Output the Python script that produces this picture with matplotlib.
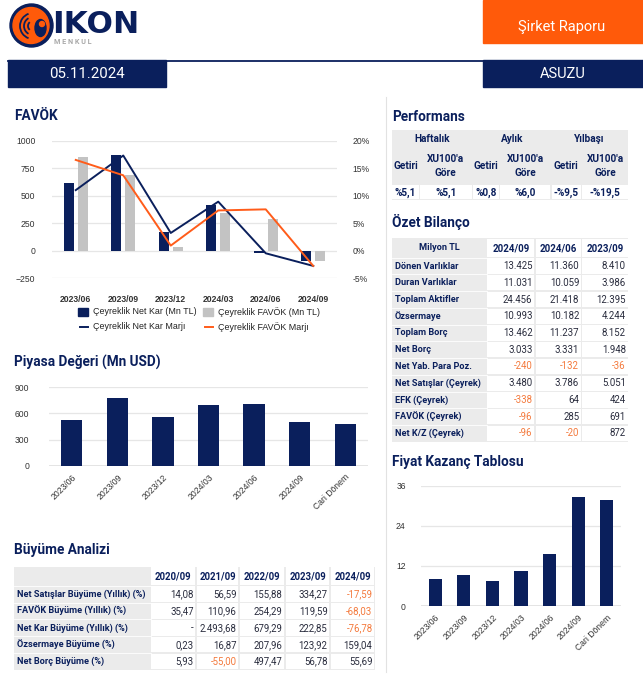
import matplotlib
matplotlib.use('Agg')
import matplotlib.pyplot as plt
import numpy as np
from matplotlib.patches import Rectangle, Circle, Ellipse, Arc

W, H = 643, 700
NAVY = '#0a1f5c'
ORANGE = '#ff5a0a'
LINE_ORANGE = '#ff5c1a'
NEG = '#f47a3d'
GRAY_BAR = '#c3c3c3'
TBL_GRAY = '#ebebeb'
TXT = '#2a2d3e'

plt.rcParams['font.family'] = ['Roboto', 'DejaVu Sans']

# ---- data ----
favok_periods = ['2023/06', '2023/09', '2023/12', '2024/03', '2024/06', '2024/09']
net_kar = [618, 872, 167, 415, -20, -96]
favok = [855, 691, 33, 342, 285, -96]
net_kar_marji = [11.0, 17.3, 3.2, 8.9, -0.5, -2.8]
favok_marji = [16.5, 13.7, 0.9, 7.3, 7.5, -2.8]

pd_periods = ['2023/06', '2023/09', '2023/12', '2024/03', '2024/06', '2024/09', 'Cari Dönem']
piyasa_degeri = [525, 777, 555, 697, 708, 498, 479]
fk_values = [8.1, 9.3, 7.4, 10.6, 15.6, 32.7, 31.7]

buyume_cols = ['2020/09', '2021/09', '2022/09', '2023/09', '2024/09']
buyume_rows = ['Net Satışlar Büyüme (Yıllık) (%)', 'FAVÖK Büyüme (Yıllık) (%)',
               'Net Kar Büyüme (Yıllık) (%)', 'Özsermaye Büyüme (%)', 'Net Borç Büyüme (%)']
buyume_vals = [
    ['14,08', '56,59', '155,88', '334,27', '-17,59'],
    ['35,47', '110,96', '254,29', '119,59', '-68,03'],
    ['-', '2.493,68', '679,29', '222,85', '-76,78'],
    ['0,23', '16,87', '207,96', '123,92', '159,04'],
    ['5,93', '-55,00', '497,47', '56,78', '55,69'],
]

perf_groups = ['Haftalık', 'Aylık', 'Yılbaşı']
perf_sub = ['Getiri', "XU100'a\nGöre"]
perf_vals = ['%5,1', '%5,1', '%0,8', '%6,0', '-%9,5', '-%19,5']

bilanco_cols = ['2024/09', '2024/06', '2023/09']
bilanco_rows = ['Dönen Varlıklar', 'Duran Varlıklar', 'Toplam Aktifler', 'Özsermaye',
                'Toplam Borç', 'Net Borç', 'Net Yab. Para Poz.', 'Net Satışlar (Çeyrek)',
                'EFK (Çeyrek)', 'FAVÖK (Çeyrek)', 'Net K/Z (Çeyrek)']
bilanco_vals = [
    ['13.425', '11.360', '8.410'],
    ['11.031', '10.059', '3.986'],
    ['24.456', '21.418', '12.395'],
    ['10.993', '10.182', '4.244'],
    ['13.462', '11.237', '8.152'],
    ['3.033', '3.331', '1.948'],
    ['-240', '-132', '-36'],
    ['3.480', '3.786', '5.051'],
    ['-338', '64', '424'],
    ['-96', '285', '691'],
    ['-96', '-20', '872'],
]


def fig_rect(x0, y0, x1, y1):
    return [x0 / W, 1 - y1 / H, (x1 - x0) / W, (y1 - y0) / H]


def val_color(s):
    return NEG if s.startswith('-') and len(s) > 1 else TXT


fig = plt.figure(figsize=(W / 100, H / 100), dpi=100)
bg = fig.add_axes([0, 0, 1, 1])
bg.set_xlim(0, W)
bg.set_ylim(H, 0)
bg.axis('off')

# ---- header ----
bg.add_patch(Circle((31.5, 25.5), 21.5, color=NAVY))
bg.add_patch(Circle((31, 25.5), 18, color=ORANGE))
bg.add_patch(Ellipse((40.5, 28), 11, 17, color=NAVY))
for r, t1, t2 in [(13, 110, 250), (9, 120, 240), (5, 130, 230)]:
    bg.add_patch(Arc((33, 26), 2 * r, 2 * r, theta1=t1, theta2=t2, color=NAVY, lw=1.3))
bg.add_patch(Ellipse((42, 24), 5, 5, color=ORANGE))
bg.text(52, 33, 'IKON', fontsize=22.5, fontweight='bold', color=NAVY,
        family='DejaVu Sans', va='baseline')
bg.text(53.5, 44.5, 'M E N K U L', fontsize=5.2, fontweight='bold', color='#a8a8a8', va='baseline')

bg.add_patch(Rectangle((483, 0), 160, 43, color=ORANGE))
bg.text(562, 27, 'Şirket Raporu', fontsize=10.5, color='white', ha='center', va='center')
bg.plot([8, 643], [60.5, 60.5], color=NAVY, lw=1.3)
bg.add_patch(Rectangle((8, 60), 158, 27, color=NAVY))
bg.text(87, 73.5, '05.11.2024', fontsize=10.8, color='white', ha='center', va='center')
bg.add_patch(Rectangle((483, 60), 160, 27, color=NAVY))
bg.text(563, 73.5, 'ASUZU', fontsize=10.5, color='white', ha='center', va='center')

bg.plot([386, 386], [97, 672], color='#e2e2e2', lw=0.8)

title_kw = dict(fontsize=9.8, fontweight='bold', color=NAVY, va='center')
bg.text(14, 116, 'FAVÖK', **title_kw)
bg.text(14, 362, 'Piyasa Değeri (Mn USD)', **title_kw)
bg.text(14, 550, 'Büyüme Analizi', **title_kw)
bg.text(392, 117, 'Performans', **title_kw)
bg.text(392, 222, 'Özet Bilanço', **title_kw)
bg.text(392, 462, 'Fiyat Kazanç Tablosu', **title_kw)

TICK_FONT = ['Liberation Sans', 'DejaVu Sans']


def style_ticks(a, labels):
    for lab in labels:
        lab.set_fontfamily(TICK_FONT)
        lab.set_fontsize(6.2)
        lab.set_color('#333333')
    for s in a.spines.values():
        s.set_visible(False)


# ---- FAVÖK chart ----
ax = fig.add_axes(fig_rect(52, 140.7, 337, 278))
ax.patch.set_alpha(0)
x = np.arange(len(favok_periods))
ax.bar(x - 0.15, net_kar, width=0.21, color=NAVY, zorder=2)
ax.bar(x + 0.15, favok, width=0.21, color=GRAY_BAR, zorder=2)
ax.set_xlim(-0.5, len(favok_periods) - 0.5)
ax.set_ylim(-250, 1000)
ax.set_yticks([-250, 0, 250, 500, 750, 1000])
ax.set_xticks(x)
ax.set_xticklabels(favok_periods, fontweight='bold')
ax.yaxis.grid(True, color='#e6e6e6', lw=0.9)
ax.set_axisbelow(True)
ax.tick_params(length=0)
ax.tick_params(axis='y', pad=12)
ax.tick_params(axis='x', pad=12)
style_ticks(ax, ax.get_xticklabels() + ax.get_yticklabels())

ax2 = ax.twinx()
ax2.plot(x, net_kar_marji, color=NAVY, lw=1.4, zorder=3)
ax2.plot(x, favok_marji, color=LINE_ORANGE, lw=1.4, zorder=3)
ax2.set_ylim(-5, 20)
ax2.set_yticks([-5, 0, 5, 10, 15, 20])
ax2.set_yticklabels([f'{v}%' for v in [-5, 0, 5, 10, 15, 20]])
ax2.tick_params(length=0, pad=11)
style_ticks(ax2, ax2.get_yticklabels())

# legend
leg_kw = dict(family=TICK_FONT, fontsize=6.4, color='#222222', va='center')
bg.add_patch(Rectangle((78, 307.5), 10, 8, color=NAVY))
bg.text(93, 311.7, 'Çeyreklik Net Kar (Mn TL)', **leg_kw)
bg.add_patch(Rectangle((203, 307.5), 10, 8, color=GRAY_BAR))
bg.text(218, 311.7, 'Çeyreklik FAVÖK (Mn TL)', **leg_kw)
bg.plot([80, 88], [326.7, 326.7], color=NAVY, lw=1.4)
bg.text(93, 326.7, 'Çeyreklik Net Kar Marjı', **leg_kw)
bg.plot([205, 213], [326.7, 326.7], color=LINE_ORANGE, lw=1.4)
bg.text(218, 326.7, 'Çeyreklik FAVÖK Marjı', **leg_kw)


def bar_chart(rect, labels, values, ylim, yticks, width):
    a = fig.add_axes(rect)
    a.patch.set_alpha(0)
    xs = np.arange(len(labels))
    a.bar(xs, values, width=width, color=NAVY, zorder=2)
    a.set_xlim(-0.5, len(labels) - 0.5)
    a.set_ylim(*ylim)
    a.set_yticks(yticks)
    a.set_xticks(xs)
    a.set_xticklabels(labels, rotation=45, ha='right', rotation_mode='anchor')
    a.yaxis.grid(True, color='#e6e6e6', lw=0.9)
    a.set_axisbelow(True)
    a.tick_params(length=0)
    a.tick_params(axis='x', pad=5)
    style_ticks(a, a.get_xticklabels() + a.get_yticklabels())
    a.axhline(0, color='#e0e0e0', lw=1.2, zorder=1)
    return a


ax_pd = bar_chart(fig_rect(49, 387.3, 368, 465.7), pd_periods, piyasa_degeri,
                  (0, 900), [0, 300, 600, 900], 0.47)
ax_pd.tick_params(axis='y', pad=14)
ax_fk = bar_chart(fig_rect(421, 485.7, 621, 606), pd_periods, fk_values,
                  (0, 36), [0, 12, 24, 36], 0.46)
ax_fk.tick_params(axis='y', pad=11)


# ---- tables ----
def grid_table(xb, yb, gray_cols, gray_rows):
    bg.add_patch(Rectangle((xb[0], yb[0]), xb[-1] - xb[0], yb[-1] - yb[0],
                           color=TBL_GRAY, lw=0))
    for i in range(len(yb) - 1):
        for j in range(len(xb) - 1):
            if j in gray_cols or i in gray_rows:
                continue
            bg.add_patch(Rectangle((xb[j] + 0.7, yb[i] + 0.7), xb[j + 1] - xb[j] - 1.4,
                                   yb[i + 1] - yb[i] - 1.4, color='white', lw=0))


lab_kw = dict(fontsize=6.6, fontweight='bold', color=NAVY, va='center')
num_kw = dict(fontsize=6.9, va='center')

# Büyüme Analizi
bx = [14, 150.7, 196, 239, 285, 330, 375]
by = [566.7, 585.7] + [585.7 + 16.86 * (i + 1) for i in range(5)]
grid_table(bx, by, gray_cols=[0], gray_rows=[])
for i in range(1, len(by) - 1):
    bg.plot([bx[0], bx[1]], [by[i], by[i]], color='white', lw=0.6)
for j, c in enumerate(buyume_cols):
    bg.text((bx[j + 1] + bx[j + 2]) / 2, (by[0] + by[1]) / 2, c, ha='center',
            **{**lab_kw, 'fontsize': 6.9})
for i, r in enumerate(buyume_rows):
    yc = (by[i + 1] + by[i + 2]) / 2
    bg.text(bx[0] + 3, yc, r, ha='left', **lab_kw)
    for j, v in enumerate(buyume_vals[i]):
        bg.text(bx[j + 2] - 2.5, yc, v, ha='right', color=val_color(v), **num_kw)

# Performans
px = [391.7, 419.3, 472.3, 499.3, 551, 581.7, 628.3]
py = [130, 148, 184, 200]
grid_table(px, py, gray_cols=[], gray_rows=[0, 1])
perf_kw = {**lab_kw, 'fontsize': 7.2}
for g, name in enumerate(perf_groups):
    bg.text((px[2 * g] + px[2 * g + 2]) / 2, (py[0] + py[1]) / 2, name, ha='center', **perf_kw)
for j in range(6):
    xc = (px[j] + px[j + 1]) / 2
    bg.text(xc, (py[1] + py[2]) / 2, perf_sub[j % 2], ha='center', linespacing=1.45, **perf_kw)
    bg.text(xc, (py[2] + py[3]) / 2 + 0.5, perf_vals[j], ha='center', **perf_kw)

# Özet Bilanço
ox = [391.7, 486.7, 535, 581.7, 628.3]
oy = [238.3, 257.7] + [257.7 + 16.73 * (i + 1) for i in range(len(bilanco_rows))]
grid_table(ox, oy, gray_cols=[0], gray_rows=[])
for i in range(1, len(oy) - 1):
    bg.plot([ox[0], ox[1]], [oy[i], oy[i]], color='white', lw=0.6)
bg.text((ox[0] + ox[1]) / 2, (oy[0] + oy[1]) / 2, 'Milyon TL', ha='center', **lab_kw)
for j, c in enumerate(bilanco_cols):
    bg.text((ox[j + 1] + ox[j + 2]) / 2, (oy[0] + oy[1]) / 2, c, ha='center',
            **{**lab_kw, 'fontsize': 7})
for i, r in enumerate(bilanco_rows):
    yc = (oy[i + 1] + oy[i + 2]) / 2
    bg.text(ox[0] + 3, yc, r, ha='left', **lab_kw)
    for j, v in enumerate(bilanco_vals[i]):
        bg.text(ox[j + 2] - 2.5, yc, v, ha='right', color=val_color(v), **num_kw)

fig.savefig('out.png', dpi=100)
